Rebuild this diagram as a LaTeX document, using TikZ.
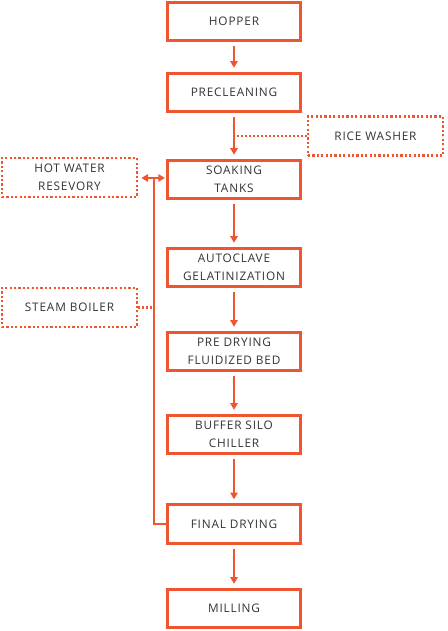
\documentclass[tikz,border=0pt]{standalone}
\usepackage{fontspec}
\setmainfont[LetterSpace=7]{Open Sans}
\usepackage{tikz}
\usetikzlibrary{arrows.meta,positioning,calc}
\definecolor{flow}{HTML}{EE5530}
\definecolor{ink}{HTML}{333333}

\begin{document}
\begin{tikzpicture}[x=1pt, y=-1pt, font=\fontsize{11.8}{18}\selectfont,
    >={Triangle[length=2.4mm, width=2.6mm]}]
  \tikzset{stage/.style={draw=flow, line width=2.8pt, minimum width=133pt,
             minimum height=38.5pt, inner sep=0pt, align=center, text=ink},
           aux/.style={draw=flow, line width=2.6pt, dash pattern=on 2.2pt off 2.2pt,
             minimum width=135pt, minimum height=39pt, inner sep=0pt,
             align=center, text=ink},
           feed/.style={->, draw=flow, line width=2.3pt, shorten <=4pt, shorten >=4pt},
           pipe/.style={draw=flow, line width=2.3pt},
           tap/.style={draw=flow, line width=2.2pt, dash pattern=on 2pt off 2pt}}
  \useasboundingbox (0,0) rectangle (447,631);

  % main process line
  \node[stage] (hop) at (234,21.5)  {HOPPER};
  \node[stage] (pre) at (234,92.5)  {PRECLEANING};
  \node[stage] (soa) at (234,179.5) {SOAKING\\TANKS};
  \node[stage] (aut) at (234,267.5) {AUTOCLAVE\\GELATINIZATION};
  \node[stage] (pdr) at (234,351.5) {PRE DRYING\\FLUIDIZED BED};
  \node[stage] (buf) at (234,434.5) {BUFFER SILO\\CHILLER};
  \node[stage] (fin) at (234,524)   {FINAL DRYING};
  \node[stage] (mil) at (234,608.5) {MILLING};

  \draw[feed] (hop) -- (pre);
  \draw[feed] (pre) -- (soa);
  \draw[feed] (soa) -- (aut);
  \draw[feed] (aut) -- (pdr);
  \draw[feed] (pdr) -- (buf);
  \draw[feed] (buf) -- (fin);
  \draw[feed] (fin) -- (mil);

  % utilities
  \node[aux] (rw) at (375.5,136)  {RICE WASHER};
  \node[aux] (hw) at (69.5,177.5) {HOT WATER\\RESEVORY};
  \node[aux] (sb) at (69.5,307.5) {STEAM BOILER};

  \coordinate (rwj) at (236,136);
  \draw[tap] (rw.west) -- (rwj);

  % hot water loop back from final drying
  \coordinate (jn) at (154,178);
  \draw[<->, draw=flow, line width=2.3pt, shorten <=3pt, shorten >=1pt]
       (hw.east |- jn) -- (soa.west |- jn);
  \draw[pipe] (fin.west) -| (jn);
  \draw[tap] (sb.east) -- (sb.east -| jn);
\end{tikzpicture}
\end{document}
